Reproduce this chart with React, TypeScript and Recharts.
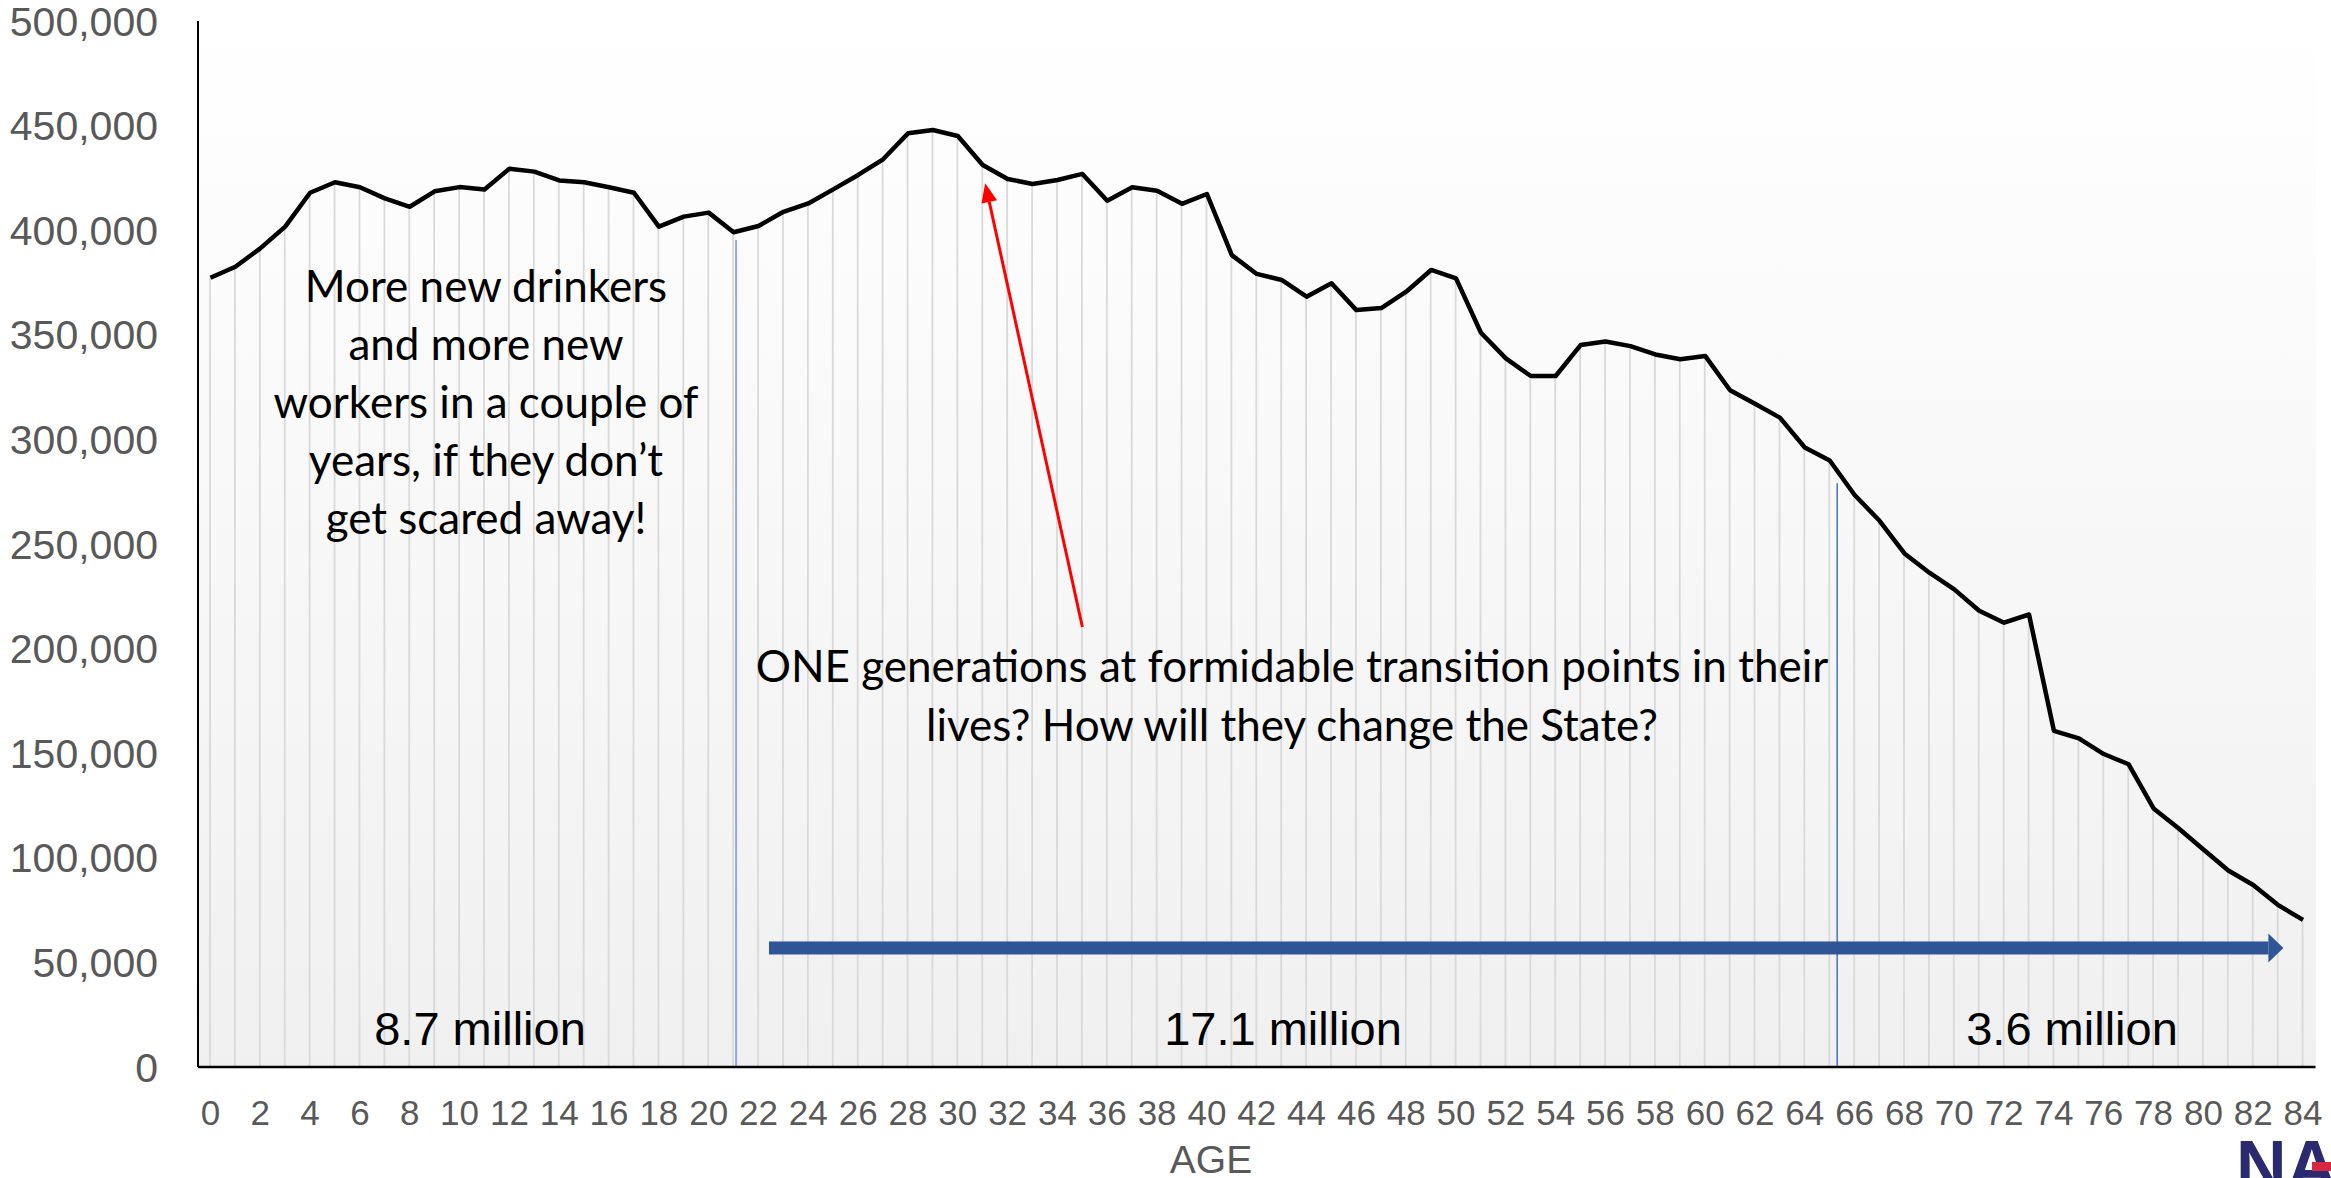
import React from 'react';
import {
  ComposedChart,
  Bar,
  Line,
  XAxis,
  YAxis,
  ReferenceLine,
} from 'recharts';

// ages 0..84 (categories)
const ages = [
  0, 1, 2, 3, 4, 5, 6, 7, 8, 9, 10, 11, 12, 13, 14, 15, 16, 17, 18, 19, 20,
  21, 22, 23, 24, 25, 26, 27, 28, 29, 30, 31, 32, 33, 34, 35, 36, 37, 38, 39,
  40, 41, 42, 43, 44, 45, 46, 47, 48, 49, 50, 51, 52, 53, 54, 55, 56, 57, 58,
  59, 60, 61, 62, 63, 64, 65, 66, 67, 68, 69, 70, 71, 72, 73, 74, 75, 76, 77,
  78, 79, 80, 81, 82, 83, 84,
];

// population by single year of age
const population = [
  377300, 382500, 391300, 401700, 417900, 422900, 420500, 415200, 411200,
  418600, 420600, 419500, 429400, 428000, 423800, 422900, 420500, 417900,
  401700, 406500, 408400, 399000, 402000, 408800, 412800, 419500, 426400,
  433900, 446300, 447900, 445000, 431200, 424500, 422100, 424000, 426900,
  414100, 420500, 418900, 412600, 417300, 388100, 379100, 376200, 368200,
  374600, 361800, 362800, 370600, 381000, 377000, 351000, 338700, 330300,
  330300, 345100, 346800, 344600, 340600, 338300, 339900, 323500, 317000,
  310400, 296100, 289900, 273400, 261100, 245500, 236300, 228300, 218100,
  212400, 216300, 160700, 157100, 149600, 144700, 123600, 114100, 104000,
  93900, 87000, 77400, 70300,
];

const xTicks = [
  0, 2, 4, 6, 8, 10, 12, 14, 16, 18, 20, 22, 24, 26, 28, 30, 32, 34, 36, 38,
  40, 42, 44, 46, 48, 50, 52, 54, 56, 58, 60, 62, 64, 66, 68, 70, 72, 74, 76,
  78, 80, 82, 84,
];
const yTicks = [
  0, 50000, 100000, 150000, 200000, 250000, 300000, 350000, 400000, 450000,
  500000,
];

// annotation anchors, in data units
const splitYoung = { age: 21.1, top: 395300 };
const splitOld = { age: 65.3, top: 279000 };
const spanArrow = { from: 22.42, to: 83.21, level: 56900 };
const pointer = { fromAge: 35.0, fromVal: 210300, toAge: 31.1, toVal: 422400 };

const leftNote = [
  'More new drinkers',
  'and more new',
  'workers in a couple of',
  'years, if they don’t',
  'get scared away!',
];
const midNote = [
  'ONE generations at formidable transition points in their',
  'lives? How will they change the State?',
];
const groupTotals = ['8.7 million', '17.1 million', '3.6 million'];

const data = ages.map((age, i) => ({ age, population: population[i] }));

const W = 2331;
const H = 1178;
const PLOT_LEFT = 198;
const PLOT_TOP = 21;
const PLOT_RIGHT = 15.5;
const PLOT_BOTTOM = 1067;

const axisFont = "'Liberation Sans', Arial, sans-serif";
const noteFont = "Lato, 'Open Sans', sans-serif";

const DropLine = (p: any) => {
  const cx = p.x + p.width / 2;
  return (
    <line
      x1={cx}
      x2={cx}
      y1={p.y}
      y2={p.y + p.height}
      stroke='#d9d9d9'
      strokeWidth={1.8}
    />
  );
};

const RedArrow = (p: any) => {
  const { x1, y1, x2, y2 } = p;
  const a = Math.atan2(y2 - y1, x2 - x1);
  const len = 19;
  const half = 8;
  const bx = x2 - len * Math.cos(a);
  const by = y2 - len * Math.sin(a);
  const nx = -Math.sin(a);
  const ny = Math.cos(a);
  return (
    <g>
      <line x1={x1} y1={y1} x2={bx} y2={by} stroke='#ff0000' strokeWidth={3} />
      <polygon
        points={`${x2},${y2} ${bx + nx * half},${by + ny * half} ${bx - nx * half},${by - ny * half}`}
        fill='#ff0000'
      />
    </g>
  );
};

const BlueArrow = (p: any) => {
  const { x1, y1, x2 } = p;
  const head = 15;
  return (
    <g>
      <rect x={x1} y={y1 - 6.5} width={x2 - head - x1} height={13} fill='#2f5597' />
      <polygon
        points={`${x2 - head},${y1 - 14.5} ${x2},${y1} ${x2 - head},${y1 + 14.5}`}
        fill='#2f5597'
      />
    </g>
  );
};

export default function App() {
  return (
    <div
      style={{
        position: 'absolute',
        left: 0,
        top: 0,
        width: W,
        height: H,
        background: '#ffffff',
        overflow: 'hidden',
      }}
    >
      {/* plot area gradient */}
      <div
        style={{
          position: 'absolute',
          left: PLOT_LEFT,
          top: PLOT_TOP,
          width: W - PLOT_LEFT - PLOT_RIGHT,
          height: PLOT_BOTTOM - PLOT_TOP,
          background: 'linear-gradient(#ffffff, #f0f0f0)',
        }}
      />
      <div style={{ position: 'absolute', left: 0, top: 0 }}>
        <ComposedChart
          width={W}
          height={H}
          data={data}
          margin={{ top: PLOT_TOP, right: PLOT_RIGHT, bottom: 0, left: 0 }}
        >
          <XAxis
            dataKey='age'
            type='number'
            domain={[-0.5, 84.5]}
            ticks={xTicks}
            interval={0}
            allowDataOverflow
            tickLine={false}
            tickSize={0}
            tickMargin={33}
            height={H - PLOT_BOTTOM}
            axisLine={{ stroke: '#000', strokeWidth: 2.5 }}
            tick={{ fill: '#595959', fontSize: 35, fontFamily: axisFont }}
          />
          <YAxis
            domain={[0, 500000]}
            ticks={yTicks}
            interval={0}
            width={PLOT_LEFT}
            tickLine={false}
            tickSize={0}
            tickMargin={40}
            axisLine={{ stroke: '#000', strokeWidth: 2 }}
            tickFormatter={(v: number) => v.toLocaleString('en-US')}
            tick={{ fill: '#595959', fontSize: 41, fontFamily: axisFont }}
          />
          {/* drop lines */}
          <Bar
            dataKey='population'
            barSize={2}
            shape={DropLine}
            isAnimationActive={false}
          />
          <ReferenceLine
            segment={[
              { x: splitYoung.age, y: 0 },
              { x: splitYoung.age, y: splitYoung.top },
            ]}
            stroke='#8faadc'
            strokeWidth={2}
          />
          <ReferenceLine
            segment={[
              { x: splitOld.age, y: 0 },
              { x: splitOld.age, y: splitOld.top },
            ]}
            stroke='#4472c4'
            strokeWidth={1.5}
          />
          <ReferenceLine
            segment={[
              { x: spanArrow.from, y: spanArrow.level },
              { x: spanArrow.to, y: spanArrow.level },
            ]}
            shape={BlueArrow}
          />
          <ReferenceLine
            segment={[
              { x: pointer.fromAge, y: pointer.fromVal },
              { x: pointer.toAge, y: pointer.toVal },
            ]}
            shape={RedArrow}
          />
          <Line
            type='linear'
            dataKey='population'
            stroke='#000000'
            strokeWidth={4.5}
            strokeLinejoin='round'
            dot={false}
            activeDot={false}
            isAnimationActive={false}
          />
        </ComposedChart>
      </div>
      {/* text overlay */}
      <svg
        width={W}
        height={H}
        style={{ position: 'absolute', left: 0, top: 0, pointerEvents: 'none' }}
      >
        <g fontFamily={noteFont} fontSize={44} fill='#000' textAnchor='middle'>
          {leftNote.map((t, i) => (
            <text key={t} x={486} y={302 + i * 58}>
              {t}
            </text>
          ))}
          {midNote.map((t, i) => (
            <text key={t} x={1292} y={682 + i * 59}>
              {t}
            </text>
          ))}
        </g>
        <g fontFamily={axisFont} fontSize={47} fill='#000' textAnchor='middle'>
          <text x={480} y={1045}>{groupTotals[0]}</text>
          <text x={1283} y={1045}>{groupTotals[1]}</text>
          <text x={2072} y={1045}>{groupTotals[2]}</text>
        </g>
        <text
          x={1211}
          y={1173}
          fontFamily={axisFont}
          fontSize={39}
          fill='#595959'
          textAnchor='middle'
        >
          AGE
        </text>
        <text
          x={2236}
          y={1190}
          fontFamily={axisFont}
          fontWeight='bold'
          fontSize={70}
          fill='#2b2a6e'
        >
          NA
        </text>
        <rect x={2312} y={1162} width={19} height={9} fill='#d7263d' />
      </svg>
    </div>
  );
}
